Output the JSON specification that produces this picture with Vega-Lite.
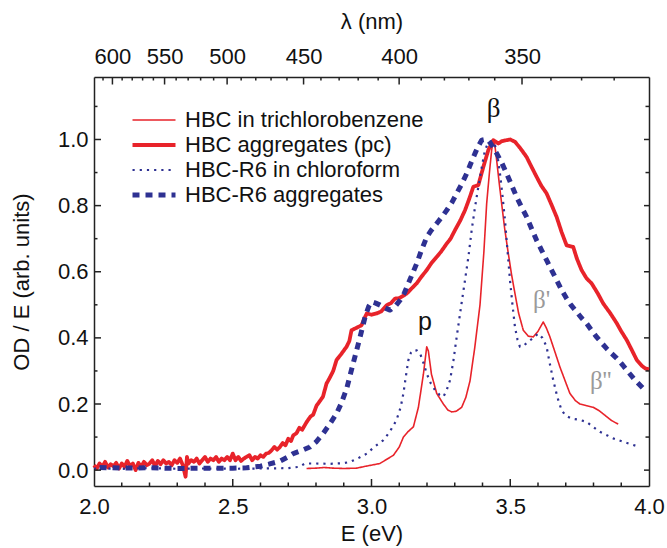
{
  "$schema": "https://vega.github.io/schema/vega-lite/v6.json",
  "width": 555,
  "height": 409,
  "autosize": {"type": "none"},
  "padding": {"left": 94, "top": 77, "right": 18, "bottom": 62},
  "background": "white",
  "config": {
    "view": {"stroke": null},
    "font": "Liberation Sans",
    "axis": {
      "labelFont": "Liberation Sans",
      "titleFont": "Liberation Sans",
      "labelFontSize": 22,
      "titleFontSize": 22,
      "titleFontWeight": "normal",
      "labelColor": "#111",
      "titleColor": "#111",
      "domainColor": "#222",
      "domainWidth": 1.5,
      "grid": false
    }
  },
  "datasets": {
    "spectra": [
      {"s":"a","E":2.766,"v":0.005},{"s":"a","E":2.80,"v":0.006},{"s":"a","E":2.83,"v":0.008},{"s":"a","E":2.86,"v":0.006},{"s":"a","E":2.90,"v":0.005},{"s":"a","E":2.947,"v":0.006},{"s":"a","E":2.98,"v":0.012},{"s":"a","E":3.03,"v":0.02},{"s":"a","E":3.079,"v":0.045},{"s":"a","E":3.10,"v":0.07},{"s":"a","E":3.115,"v":0.1},{"s":"a","E":3.13,"v":0.115},{"s":"a","E":3.151,"v":0.131},{"s":"a","E":3.169,"v":0.19},{"s":"a","E":3.187,"v":0.29},{"s":"a","E":3.199,"v":0.373},{"s":"a","E":3.205,"v":0.36},{"s":"a","E":3.216,"v":0.29},{"s":"a","E":3.235,"v":0.232},{"s":"a","E":3.259,"v":0.2},{"s":"a","E":3.275,"v":0.182},{"s":"a","E":3.289,"v":0.176},{"s":"a","E":3.305,"v":0.178},{"s":"a","E":3.325,"v":0.19},{"s":"a","E":3.34,"v":0.22},{"s":"a","E":3.355,"v":0.27},{"s":"a","E":3.372,"v":0.37},{"s":"a","E":3.391,"v":0.5},{"s":"a","E":3.405,"v":0.66},{"s":"a","E":3.415,"v":0.806},{"s":"a","E":3.425,"v":0.9},{"s":"a","E":3.433,"v":0.968},{"s":"a","E":3.439,"v":0.998},{"s":"a","E":3.445,"v":0.98},{"s":"a","E":3.451,"v":0.937},{"s":"a","E":3.46,"v":0.87},{"s":"a","E":3.469,"v":0.806},{"s":"a","E":3.48,"v":0.73},{"s":"a","E":3.493,"v":0.655},{"s":"a","E":3.505,"v":0.59},{"s":"a","E":3.517,"v":0.534},{"s":"a","E":3.53,"v":0.475},{"s":"a","E":3.547,"v":0.423},{"s":"a","E":3.565,"v":0.405},{"s":"a","E":3.583,"v":0.403},{"s":"a","E":3.60,"v":0.42},{"s":"a","E":3.619,"v":0.448},{"s":"a","E":3.63,"v":0.43},{"s":"a","E":3.643,"v":0.403},{"s":"a","E":3.66,"v":0.36},{"s":"a","E":3.679,"v":0.312},{"s":"a","E":3.70,"v":0.265},{"s":"a","E":3.715,"v":0.232},{"s":"a","E":3.735,"v":0.21},{"s":"a","E":3.751,"v":0.2},{"s":"a","E":3.775,"v":0.195},{"s":"a","E":3.799,"v":0.19},{"s":"a","E":3.82,"v":0.18},{"s":"a","E":3.841,"v":0.166},{"s":"a","E":3.865,"v":0.15},{"s":"a","E":3.889,"v":0.139},

      {"s":"b","E":2.00,"v":0.015},{"s":"b","E":2.01,"v":0.005},{"s":"b","E":2.02,"v":0.02},{"s":"b","E":2.03,"v":0.01},{"s":"b","E":2.04,"v":0.025},{"s":"b","E":2.05,"v":0.008},{"s":"b","E":2.06,"v":0.018},{"s":"b","E":2.07,"v":0.012},{"s":"b","E":2.08,"v":0.022},{"s":"b","E":2.09,"v":0.005},{"s":"b","E":2.10,"v":0.02},{"s":"b","E":2.11,"v":0.01},{"s":"b","E":2.12,"v":0.028},{"s":"b","E":2.13,"v":0.012},{"s":"b","E":2.14,"v":0.02},{"s":"b","E":2.15,"v":0.0},{"s":"b","E":2.16,"v":0.022},{"s":"b","E":2.17,"v":0.01},{"s":"b","E":2.18,"v":0.025},{"s":"b","E":2.19,"v":0.015},{"s":"b","E":2.20,"v":0.02},{"s":"b","E":2.21,"v":0.03},{"s":"b","E":2.22,"v":0.012},{"s":"b","E":2.23,"v":0.028},{"s":"b","E":2.24,"v":0.018},{"s":"b","E":2.25,"v":0.03},{"s":"b","E":2.26,"v":0.02},{"s":"b","E":2.27,"v":0.025},{"s":"b","E":2.28,"v":0.015},{"s":"b","E":2.29,"v":0.03},{"s":"b","E":2.30,"v":0.022},{"s":"b","E":2.31,"v":0.035},{"s":"b","E":2.32,"v":0.015},{"s":"b","E":2.33,"v":-0.02},{"s":"b","E":2.335,"v":0.04},{"s":"b","E":2.34,"v":0.02},{"s":"b","E":2.35,"v":0.03},{"s":"b","E":2.36,"v":0.025},{"s":"b","E":2.37,"v":0.035},{"s":"b","E":2.38,"v":0.02},{"s":"b","E":2.39,"v":0.03},{"s":"b","E":2.40,"v":0.04},{"s":"b","E":2.41,"v":0.025},{"s":"b","E":2.42,"v":0.035},{"s":"b","E":2.43,"v":0.03},{"s":"b","E":2.44,"v":0.04},{"s":"b","E":2.45,"v":0.025},{"s":"b","E":2.46,"v":0.035},{"s":"b","E":2.47,"v":0.03},{"s":"b","E":2.48,"v":0.04},{"s":"b","E":2.49,"v":0.03},{"s":"b","E":2.50,"v":0.05},{"s":"b","E":2.51,"v":0.03},{"s":"b","E":2.52,"v":0.04},{"s":"b","E":2.53,"v":0.028},{"s":"b","E":2.54,"v":0.035},{"s":"b","E":2.55,"v":0.04},{"s":"b","E":2.56,"v":0.045},{"s":"b","E":2.57,"v":0.03},{"s":"b","E":2.58,"v":0.04},{"s":"b","E":2.59,"v":0.035},{"s":"b","E":2.60,"v":0.045},{"s":"b","E":2.61,"v":0.04},{"s":"b","E":2.62,"v":0.05},{"s":"b","E":2.63,"v":0.052},{"s":"b","E":2.64,"v":0.06},{"s":"b","E":2.65,"v":0.07},{"s":"b","E":2.66,"v":0.062},{"s":"b","E":2.67,"v":0.07},{"s":"b","E":2.68,"v":0.082},{"s":"b","E":2.69,"v":0.075},{"s":"b","E":2.70,"v":0.095},{"s":"b","E":2.71,"v":0.088},{"s":"b","E":2.718,"v":0.105},{"s":"b","E":2.73,"v":0.112},{"s":"b","E":2.74,"v":0.128},{"s":"b","E":2.75,"v":0.122},{"s":"b","E":2.766,"v":0.145},{"s":"b","E":2.78,"v":0.162},{"s":"b","E":2.79,"v":0.168},{"s":"b","E":2.802,"v":0.195},{"s":"b","E":2.815,"v":0.21},{"s":"b","E":2.825,"v":0.222},{"s":"b","E":2.838,"v":0.262},{"s":"b","E":2.85,"v":0.28},{"s":"b","E":2.862,"v":0.3},{"s":"b","E":2.874,"v":0.333},{"s":"b","E":2.89,"v":0.35},{"s":"b","E":2.91,"v":0.373},{"s":"b","E":2.92,"v":0.39},{"s":"b","E":2.928,"v":0.423},{"s":"b","E":2.945,"v":0.43},{"s":"b","E":2.964,"v":0.438},{"s":"b","E":2.975,"v":0.46},{"s":"b","E":2.983,"v":0.474},{"s":"b","E":3.00,"v":0.47},{"s":"b","E":3.019,"v":0.474},{"s":"b","E":3.035,"v":0.48},{"s":"b","E":3.055,"v":0.499},{"s":"b","E":3.07,"v":0.505},{"s":"b","E":3.085,"v":0.519},{"s":"b","E":3.10,"v":0.52},{"s":"b","E":3.127,"v":0.534},{"s":"b","E":3.145,"v":0.55},{"s":"b","E":3.163,"v":0.565},{"s":"b","E":3.18,"v":0.585},{"s":"b","E":3.199,"v":0.605},{"s":"b","E":3.215,"v":0.625},{"s":"b","E":3.235,"v":0.645},{"s":"b","E":3.25,"v":0.66},{"s":"b","E":3.271,"v":0.685},{"s":"b","E":3.285,"v":0.7},{"s":"b","E":3.301,"v":0.726},{"s":"b","E":3.32,"v":0.755},{"s":"b","E":3.337,"v":0.786},{"s":"b","E":3.352,"v":0.82},{"s":"b","E":3.367,"v":0.857},{"s":"b","E":3.385,"v":0.862},{"s":"b","E":3.403,"v":0.917},{"s":"b","E":3.421,"v":0.968},{"s":"b","E":3.439,"v":0.998},{"s":"b","E":3.457,"v":0.988},{"s":"b","E":3.47,"v":0.995},{"s":"b","E":3.487,"v":0.998},{"s":"b","E":3.50,"v":1.0},{"s":"b","E":3.517,"v":0.993},{"s":"b","E":3.535,"v":0.975},{"s":"b","E":3.559,"v":0.947},{"s":"b","E":3.575,"v":0.92},{"s":"b","E":3.595,"v":0.887},{"s":"b","E":3.612,"v":0.86},{"s":"b","E":3.631,"v":0.837},{"s":"b","E":3.65,"v":0.8},{"s":"b","E":3.667,"v":0.766},{"s":"b","E":3.685,"v":0.72},{"s":"b","E":3.703,"v":0.68},{"s":"b","E":3.727,"v":0.675},{"s":"b","E":3.74,"v":0.64},{"s":"b","E":3.757,"v":0.605},{"s":"b","E":3.775,"v":0.58},{"s":"b","E":3.793,"v":0.565},{"s":"b","E":3.815,"v":0.535},{"s":"b","E":3.835,"v":0.504},{"s":"b","E":3.86,"v":0.475},{"s":"b","E":3.884,"v":0.444},{"s":"b","E":3.90,"v":0.42},{"s":"b","E":3.92,"v":0.393},{"s":"b","E":3.94,"v":0.36},{"s":"b","E":3.956,"v":0.333},{"s":"b","E":3.975,"v":0.315},{"s":"b","E":3.986,"v":0.308},{"s":"b","E":4.0,"v":0.305},

      {"s":"c","E":2.00,"v":0.005},{"s":"c","E":2.1,"v":0.004},{"s":"c","E":2.2,"v":0.006},{"s":"c","E":2.3,"v":0.004},{"s":"c","E":2.4,"v":0.005},{"s":"c","E":2.5,"v":0.004},{"s":"c","E":2.6,"v":0.005},{"s":"c","E":2.7,"v":0.006},{"s":"c","E":2.74,"v":0.01},{"s":"c","E":2.76,"v":0.02},{"s":"c","E":2.8,"v":0.02},{"s":"c","E":2.85,"v":0.019},{"s":"c","E":2.9,"v":0.021},{"s":"c","E":2.922,"v":0.025},{"s":"c","E":2.95,"v":0.035},{"s":"c","E":2.983,"v":0.05},{"s":"c","E":3.01,"v":0.07},{"s":"c","E":3.042,"v":0.09},{"s":"c","E":3.065,"v":0.115},{"s":"c","E":3.09,"v":0.151},{"s":"c","E":3.105,"v":0.19},{"s":"c","E":3.115,"v":0.232},{"s":"c","E":3.125,"v":0.29},{"s":"c","E":3.133,"v":0.333},{"s":"c","E":3.142,"v":0.355},{"s":"c","E":3.151,"v":0.363},{"s":"c","E":3.163,"v":0.362},{"s":"c","E":3.175,"v":0.353},{"s":"c","E":3.187,"v":0.325},{"s":"c","E":3.199,"v":0.292},{"s":"c","E":3.214,"v":0.262},{"s":"c","E":3.229,"v":0.242},{"s":"c","E":3.245,"v":0.228},{"s":"c","E":3.259,"v":0.222},{"s":"c","E":3.27,"v":0.24},{"s":"c","E":3.283,"v":0.272},{"s":"c","E":3.295,"v":0.33},{"s":"c","E":3.307,"v":0.403},{"s":"c","E":3.322,"v":0.49},{"s":"c","E":3.337,"v":0.575},{"s":"c","E":3.35,"v":0.65},{"s":"c","E":3.361,"v":0.726},{"s":"c","E":3.373,"v":0.795},{"s":"c","E":3.385,"v":0.857},{"s":"c","E":3.397,"v":0.915},{"s":"c","E":3.409,"v":0.968},{"s":"c","E":3.418,"v":0.985},{"s":"c","E":3.427,"v":0.993},{"s":"c","E":3.436,"v":0.995},{"s":"c","E":3.445,"v":0.983},{"s":"c","E":3.455,"v":0.945},{"s":"c","E":3.463,"v":0.897},{"s":"c","E":3.472,"v":0.83},{"s":"c","E":3.481,"v":0.756},{"s":"c","E":3.49,"v":0.665},{"s":"c","E":3.499,"v":0.575},{"s":"c","E":3.508,"v":0.5},{"s":"c","E":3.517,"v":0.433},{"s":"c","E":3.526,"v":0.395},{"s":"c","E":3.535,"v":0.373},{"s":"c","E":3.55,"v":0.378},{"s":"c","E":3.565,"v":0.388},{"s":"c","E":3.583,"v":0.4},{"s":"c","E":3.601,"v":0.413},{"s":"c","E":3.616,"v":0.4},{"s":"c","E":3.631,"v":0.373},{"s":"c","E":3.643,"v":0.32},{"s":"c","E":3.655,"v":0.272},{"s":"c","E":3.67,"v":0.22},{"s":"c","E":3.685,"v":0.181},{"s":"c","E":3.70,"v":0.165},{"s":"c","E":3.721,"v":0.156},{"s":"c","E":3.75,"v":0.152},{"s":"c","E":3.775,"v":0.146},{"s":"c","E":3.80,"v":0.13},{"s":"c","E":3.823,"v":0.116},{"s":"c","E":3.85,"v":0.105},{"s":"c","E":3.871,"v":0.096},{"s":"c","E":3.91,"v":0.085},{"s":"c","E":3.955,"v":0.073},

      {"s":"d","E":2.02,"v":0.008},{"s":"d","E":2.1,"v":0.006},{"s":"d","E":2.2,"v":0.007},{"s":"d","E":2.3,"v":0.005},{"s":"d","E":2.4,"v":0.006},{"s":"d","E":2.5,"v":0.006},{"s":"d","E":2.55,"v":0.007},{"s":"d","E":2.6,"v":0.012},{"s":"d","E":2.63,"v":0.018},{"s":"d","E":2.67,"v":0.027},{"s":"d","E":2.70,"v":0.04},{"s":"d","E":2.718,"v":0.05},{"s":"d","E":2.75,"v":0.06},{"s":"d","E":2.778,"v":0.07},{"s":"d","E":2.80,"v":0.085},{"s":"d","E":2.826,"v":0.111},{"s":"d","E":2.85,"v":0.14},{"s":"d","E":2.874,"v":0.171},{"s":"d","E":2.89,"v":0.2},{"s":"d","E":2.91,"v":0.245},{"s":"d","E":2.934,"v":0.323},{"s":"d","E":2.959,"v":0.403},{"s":"d","E":2.977,"v":0.464},{"s":"d","E":2.99,"v":0.495},{"s":"d","E":3.001,"v":0.509},{"s":"d","E":3.015,"v":0.505},{"s":"d","E":3.031,"v":0.499},{"s":"d","E":3.05,"v":0.49},{"s":"d","E":3.067,"v":0.484},{"s":"d","E":3.085,"v":0.495},{"s":"d","E":3.103,"v":0.514},{"s":"d","E":3.118,"v":0.535},{"s":"d","E":3.133,"v":0.565},{"s":"d","E":3.148,"v":0.595},{"s":"d","E":3.163,"v":0.625},{"s":"d","E":3.18,"v":0.665},{"s":"d","E":3.199,"v":0.705},{"s":"d","E":3.215,"v":0.725},{"s":"d","E":3.235,"v":0.746},{"s":"d","E":3.253,"v":0.765},{"s":"d","E":3.271,"v":0.786},{"s":"d","E":3.29,"v":0.81},{"s":"d","E":3.307,"v":0.837},{"s":"d","E":3.325,"v":0.865},{"s":"d","E":3.343,"v":0.897},{"s":"d","E":3.358,"v":0.928},{"s":"d","E":3.373,"v":0.958},{"s":"d","E":3.385,"v":0.98},{"s":"d","E":3.397,"v":0.998},{"s":"d","E":3.41,"v":1.0},{"s":"d","E":3.421,"v":0.998},{"s":"d","E":3.436,"v":0.98},{"s":"d","E":3.451,"v":0.958},{"s":"d","E":3.469,"v":0.93},{"s":"d","E":3.487,"v":0.897},{"s":"d","E":3.505,"v":0.862},{"s":"d","E":3.523,"v":0.826},{"s":"d","E":3.541,"v":0.795},{"s":"d","E":3.559,"v":0.766},{"s":"d","E":3.577,"v":0.73},{"s":"d","E":3.595,"v":0.695},{"s":"d","E":3.613,"v":0.665},{"s":"d","E":3.631,"v":0.635},{"s":"d","E":3.649,"v":0.605},{"s":"d","E":3.667,"v":0.575},{"s":"d","E":3.685,"v":0.545},{"s":"d","E":3.703,"v":0.519},{"s":"d","E":3.72,"v":0.498},{"s":"d","E":3.739,"v":0.479},{"s":"d","E":3.757,"v":0.46},{"s":"d","E":3.775,"v":0.444},{"s":"d","E":3.793,"v":0.423},{"s":"d","E":3.811,"v":0.403},{"s":"d","E":3.829,"v":0.385},{"s":"d","E":3.847,"v":0.368},{"s":"d","E":3.865,"v":0.353},{"s":"d","E":3.884,"v":0.338},{"s":"d","E":3.905,"v":0.318},{"s":"d","E":3.925,"v":0.297},{"s":"d","E":3.95,"v":0.272},{"s":"d","E":3.979,"v":0.247}
    ],
    "eMajor": [{"p": 2.5}, {"p": 3.0}, {"p": 3.5}],
    "eMinor": [{"p": 2.1}, {"p": 2.2}, {"p": 2.3}, {"p": 2.4}, {"p": 2.6}, {"p": 2.7}, {"p": 2.8}, {"p": 2.9}, {"p": 3.1}, {"p": 3.2}, {"p": 3.3}, {"p": 3.4}, {"p": 3.6}, {"p": 3.7}, {"p": 3.8}, {"p": 3.9}],
    "lMajor": [{"p": 2.0664}, {"p": 2.2543}, {"p": 2.4797}, {"p": 2.7552}, {"p": 3.0996}, {"p": 3.5424}],
    "lMinor": [{"p": 2.0325}, {"p": 2.1014}, {"p": 2.1377}, {"p": 2.1752}, {"p": 2.2140}, {"p": 2.2960}, {"p": 2.3393}, {"p": 2.3843}, {"p": 2.4311}, {"p": 2.5303}, {"p": 2.5830}, {"p": 2.6380}, {"p": 2.6953}, {"p": 2.8178}, {"p": 2.8834}, {"p": 2.9520}, {"p": 3.0240}, {"p": 3.1791}, {"p": 3.2627}, {"p": 3.3509}, {"p": 3.4440}, {"p": 3.6466}, {"p": 3.7571}, {"p": 3.8745}],
    "vMajor": [{"p": 0.0}, {"p": 0.2}, {"p": 0.4}, {"p": 0.6}, {"p": 0.8}, {"p": 1.0}],
    "vMinor": [{"p": 0.1}, {"p": 0.3}, {"p": 0.5}, {"p": 0.7}, {"p": 0.9}, {"p": 1.1}],
    "anchor": [{"E": 2.5, "v": 0.5}]
  },
  "layer": [
    {
      "layer": [
        {
          "data": {"name": "spectra"},
          "mark": {"type": "line", "strokeCap": "butt", "strokeJoin": "round"},
          "encoding": {
            "x": {
              "field": "E", "type": "quantitative",
              "scale": {"domain": [2, 4], "nice": false, "zero": false},
              "axis": {
                "orient": "bottom",
                "title": "E (eV)",
                "values": [2.0, 2.5, 3.0, 3.5, 4.0],
                "format": ".1f",
                "ticks": false,
                "labelOverlap": false,
                "labelFlush": false,
                "labelPadding": 10,
                "titlePadding": 6
              }
            },
            "y": {
              "field": "v", "type": "quantitative",
              "scale": {"domain": [-0.048, 1.189], "nice": false, "zero": false},
              "axis": {
                "orient": "left",
                "title": "OD / E (arb. units)",
                "values": [0, 0.2, 0.4, 0.6, 0.8, 1.0],
                "format": ".1f",
                "ticks": false,
                "labelOverlap": false,
                "labelFlush": false,
                "labelPadding": 6,
                "titlePadding": 24
              }
            },
            "color": {
              "field": "s", "type": "nominal",
              "scale": {"domain": ["a","b","c","d"], "range": ["#e8232a","#e8232a","#2e3192","#2e3192"]},
              "legend": {
                "title": null,
                "orient": "none",
                "legendX": 36,
                "legendY": 32,
                "padding": 0,
                "clipHeight": 22,
                "rowPadding": 3,
                "symbolType": "stroke",
                "symbolSize": 1849,
                "labelOffset": 7,
                "labelFont": "Liberation Sans",
                "labelFontSize": 22,
                "labelColor": "#111",
                "labelLimit": 400,
                "labelExpr": "datum.label=='a' ? 'HBC in trichlorobenzene' : datum.label=='b' ? 'HBC aggregates (pc)' : datum.label=='c' ? 'HBC-R6 in chloroform' : 'HBC-R6 aggregates'"
              }
            },
            "strokeWidth": {
              "field": "s", "type": "nominal",
              "scale": {"type": "ordinal", "domain": ["a","b","c","d"], "range": [1.6, 3.8, 2.2, 5]}
            },
            "strokeDash": {
              "field": "s", "type": "nominal",
              "scale": {"type": "ordinal", "domain": ["a","b","c","d"], "range": [[1,0],[1,0],[2.2,5],[7,6]]}
            }
          }
        },
        {
          "data": {"name": "eMajor"},
          "mark": {"type": "rule", "color": "#222", "strokeWidth": 1.5},
          "encoding": {
            "x": {"field": "p", "type": "quantitative"},
            "y": {"datum": -0.048, "type": "quantitative"},
            "y2": {"datum": -0.0268}
          }
        },
        {
          "data": {"name": "eMinor"},
          "mark": {"type": "rule", "color": "#222", "strokeWidth": 1.5},
          "encoding": {
            "x": {"field": "p", "type": "quantitative"},
            "y": {"datum": -0.048, "type": "quantitative"},
            "y2": {"datum": -0.0374}
          }
        },
        {
          "data": {"name": "lMajor"},
          "mark": {"type": "rule", "color": "#222", "strokeWidth": 1.5},
          "encoding": {
            "x": {"field": "p", "type": "quantitative"},
            "y": {"datum": 1.189, "type": "quantitative"},
            "y2": {"datum": 1.1663}
          }
        },
        {
          "data": {"name": "lMinor"},
          "mark": {"type": "rule", "color": "#222", "strokeWidth": 1.5},
          "encoding": {
            "x": {"field": "p", "type": "quantitative"},
            "y": {"datum": 1.189, "type": "quantitative"},
            "y2": {"datum": 1.1784}
          }
        },
        {
          "data": {"name": "vMajor"},
          "mark": {"type": "rule", "color": "#222", "strokeWidth": 1.5},
          "encoding": {
            "y": {"field": "p", "type": "quantitative"},
            "x": {"datum": 2, "type": "quantitative"},
            "x2": {"datum": 2.0252}
          }
        },
        {
          "data": {"name": "vMinor"},
          "mark": {"type": "rule", "color": "#222", "strokeWidth": 1.5},
          "encoding": {
            "y": {"field": "p", "type": "quantitative"},
            "x": {"datum": 2, "type": "quantitative"},
            "x2": {"datum": 2.0126}
          }
        },
        {
          "data": {"name": "vMajor"},
          "mark": {"type": "rule", "color": "#222", "strokeWidth": 1.5},
          "encoding": {
            "y": {"field": "p", "type": "quantitative"},
            "x": {"datum": 4, "type": "quantitative"},
            "x2": {"datum": 3.982}
          }
        },
        {
          "data": {"name": "vMinor"},
          "mark": {"type": "rule", "color": "#222", "strokeWidth": 1.5},
          "encoding": {
            "y": {"field": "p", "type": "quantitative"},
            "x": {"datum": 4, "type": "quantitative"},
            "x2": {"datum": 3.9874}
          }
        },
        {
          "data": {"values": [{"t": "β", "E": 3.44, "v": 1.067}]},
          "mark": {"type": "text", "font": "Liberation Serif", "fontSize": 27, "color": "#111", "align": "center", "baseline": "alphabetic"},
          "encoding": {
            "x": {"field": "E", "type": "quantitative"},
            "y": {"field": "v", "type": "quantitative"},
            "text": {"field": "t"}
          }
        },
        {
          "data": {"values": [{"t": "p", "E": 3.193, "v": 0.423}]},
          "mark": {"type": "text", "font": "Liberation Sans", "fontSize": 25, "color": "#111", "align": "center", "baseline": "alphabetic"},
          "encoding": {
            "x": {"field": "E", "type": "quantitative"},
            "y": {"field": "v", "type": "quantitative"},
            "text": {"field": "t"}
          }
        },
        {
          "data": {"values": [{"t": "β'", "E": 3.582, "v": 0.49}, {"t": "β''", "E": 3.787, "v": 0.245}]},
          "mark": {"type": "text", "font": "Liberation Serif", "fontSize": 25, "color": "#9a9a9a", "align": "left", "baseline": "alphabetic"},
          "encoding": {
            "x": {"field": "E", "type": "quantitative"},
            "y": {"field": "v", "type": "quantitative"},
            "text": {"field": "t"}
          }
        }
      ]
    },
    {
      "data": {"name": "anchor"},
      "mark": {"type": "point", "opacity": 0},
      "encoding": {
        "x": {
          "field": "E", "type": "quantitative",
          "scale": {"domain": [2, 4], "nice": false, "zero": false},
          "axis": {
            "orient": "top",
            "title": "λ (nm)",
            "values": [2.0664, 2.2543, 2.4797, 2.7552, 3.0996, 3.5424],
            "labelExpr": "format(round(1239.84/datum.value),'d')",
            "ticks": false,
            "labelOverlap": false,
            "labelFlush": false,
            "labelPadding": 8.5,
            "titlePadding": 12
          }
        },
        "y": {
          "field": "v", "type": "quantitative",
          "scale": {"domain": [-0.048, 1.189], "nice": false, "zero": false},
          "axis": {"orient": "right", "title": null, "labels": false, "ticks": false}
        }
      }
    }
  ],
  "resolve": {"scale": {"x": "independent", "y": "independent"}}
}
